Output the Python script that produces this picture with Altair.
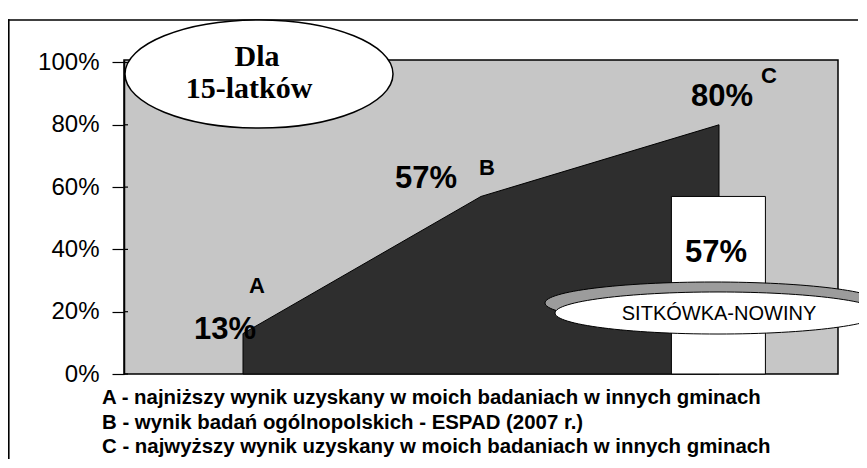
import altair as alt
import pandas as pd

# ---------------- data ----------------
categories = ["A", "B", "C"]
positions = [0.5, 1.5, 2.5]
values = [0.13, 0.57, 0.80]
local_name = "SITKÓWKA-NOWINY"
local_value = 0.57
local_pos = 2.5
y_ticks = [0, 0.2, 0.4, 0.6, 0.8, 1.0]
title_lines = ["Dla", "15-latków"]
legend_lines = [
    "A - najniższy wynik uzyskany w moich badaniach w innych gminach",
    "B - wynik badań ogólnopolskich - ESPAD (2007 r.)",
    "C - najwyższy wynik uzyskany w moich badaniach w innych gminach",
]

# ---------------- styling ----------------
W, H = 714, 314
PAD = {"left": 116, "top": 52, "right": 21, "bottom": 86}
SANS = "Liberation Sans"
SERIF = "Liberation Serif"
xscale = alt.Scale(domain=[0, 3], nice=False, zero=False)
yscale = alt.Scale(domain=[0, 1.008], nice=False, zero=True)


def ellipse_path(k):
    c = 0.5523
    return (f"M -1 0 C -1 {-c*k:.4f} {-c:.4f} {-k:.4f} 0 {-k:.4f} "
            f"C {c:.4f} {-k:.4f} 1 {-c*k:.4f} 1 0 "
            f"C 1 {c*k:.4f} {c:.4f} {k:.4f} 0 {k:.4f} "
            f"C {-c:.4f} {k:.4f} -1 {c*k:.4f} -1 0 Z")


df = pd.DataFrame({"cat": categories, "x": positions, "v": values})
df["label"] = [f"{round(v * 100)}%" for v in values]

X = alt.X("x:Q", scale=xscale, axis=None)
Y = alt.Y(
    "v:Q", scale=yscale,
    axis=alt.Axis(values=y_ticks, format=".0%", labelFont=SANS, labelFontSize=24,
                  labelColor="black", tickSize=12, tickColor="black", tickWidth=1.2,
                  domainColor="black", domainWidth=1.5, labelPadding=13,
                  grid=False, title=None),
)

area = alt.Chart(df).mark_area(color="#2e2e2e", stroke="black", strokeWidth=1).encode(
    x=X, y=Y
)

bar_df = pd.DataFrame({"x": [local_pos - 0.2], "x2": [local_pos + 0.195], "v": [local_value],
                       "label": [f"{round(local_value * 100)}%"], "xc": [local_pos]})
bar = alt.Chart(bar_df).mark_rect(fill="white", stroke="black", strokeWidth=1).encode(
    x=X, x2="x2:Q", y=Y, y2=alt.datum(0)
)
bar_label = alt.Chart(bar_df).mark_text(
    font=SANS, fontSize=31, fontWeight="bold", color="black", dx=-3, dy=57, baseline="middle"
).encode(x=alt.X("xc:Q", scale=xscale, axis=None), y=Y, text="label:N")

# value labels and letters near points A, B, C
val_offsets = [(-18, -4), (-55, -17), (3, -28)]
let_offsets = [(14, -48), (6, -28), (50, -49)]
label_layers = []
for i in range(3):
    sub = df.iloc[[i]]
    label_layers.append(
        alt.Chart(sub).mark_text(font=SANS, fontSize=31, fontWeight="bold", color="black",
                                 dx=val_offsets[i][0], dy=val_offsets[i][1], baseline="middle")
        .encode(x=X, y=Y, text="label:N")
    )
    label_layers.append(
        alt.Chart(sub).mark_text(font=SANS, fontSize=22, fontWeight="bold", color="black",
                                 dx=let_offsets[i][0], dy=let_offsets[i][1], baseline="middle")
        .encode(x=X, y=Y, text="cat:N")
    )

# inner halves of the y ticks
tick_df = pd.DataFrame({"v": y_ticks})
inner_ticks = alt.Chart(tick_df).mark_rule(color="black", strokeWidth=1.2).encode(
    y=Y, x=alt.value(0), x2=alt.value(4)
)

# "SITKÓWKA-NOWINY" 3D ellipse (pixel offsets relative to plot origin)
ell_df = pd.DataFrame({"x": [local_pos], "name": [local_name]})
ell_back = alt.Chart(ell_df).mark_point(
    shape=ellipse_path(0.125), size=336 ** 2, filled=True, fill="#9c9c9c",
    stroke="black", strokeWidth=1, opacity=1, xOffset=-6
).encode(x=alt.X("x:Q", scale=xscale, axis=None), y=alt.value(243))
ell_front = alt.Chart(ell_df).mark_point(
    shape=ellipse_path(0.129), size=326 ** 2, filled=True, fill="white",
    stroke="black", strokeWidth=1, opacity=1, xOffset=-1
).encode(x=alt.X("x:Q", scale=xscale, axis=None), y=alt.value(253))
ell_text = alt.Chart(ell_df).mark_text(
    font=SANS, fontSize=20, color="black", baseline="middle"
).encode(x=alt.X("x:Q", scale=xscale, axis=None), y=alt.value(254), text="name:N")

# "Dla 15-latków" ellipse
one = alt.Data(values=[{}])
title_ell = alt.Chart(one).mark_point(
    shape=ellipse_path(0.403), size=268 ** 2, filled=True, fill="white",
    stroke="black", strokeWidth=1.5, opacity=1
).encode(x=alt.value(135), y=alt.value(14))
title_t1 = alt.Chart(one).mark_text(
    font=SERIF, fontSize=30, fontWeight="bold", color="black", baseline="middle"
).encode(x=alt.value(133), y=alt.value(-3), text=alt.value(title_lines[0]))
title_t2 = alt.Chart(one).mark_text(
    font=SERIF, fontSize=30, fontWeight="bold", color="black", baseline="middle"
).encode(x=alt.value(125), y=alt.value(29), text=alt.value(title_lines[1]))

# outer frame: top and left edges as thin filled bars (no strokes)
frame_top = alt.Chart(one).mark_rect(fill="black", strokeWidth=0).encode(
    x=alt.value(-PAD["left"]), x2=alt.value(W + PAD["right"] - 1),
    y=alt.value(-40.8), y2=alt.value(-39.2)
)
frame_left = alt.Chart(one).mark_rect(fill="black", strokeWidth=0).encode(
    x=alt.value(-PAD["left"]), x2=alt.value(-PAD["left"] + 1.6),
    y=alt.value(-40.8), y2=alt.value(H + PAD["bottom"] - 1)
)

# legend lines under the chart
legend_layers = []
for i, line in enumerate(legend_lines):
    legend_layers.append(
        alt.Chart(one).mark_text(
            font=SANS, fontSize=20.4, fontWeight="bold", color="black",
            align="left", baseline="middle"
        ).encode(x=alt.value(-22), y=alt.value(338 + 24.5 * i), text=alt.value(line))
    )

chart = alt.layer(
    area, bar, ell_back, ell_front, ell_text, bar_label, inner_ticks,
    *label_layers, frame_top, frame_left, title_ell, title_t1, title_t2, *legend_layers
).properties(
    width=W, height=H,
    autosize=alt.AutoSizeParams(type="none"),
    padding=PAD,
).configure_view(
    fill="#c6c6c6", stroke="black", strokeWidth=1.5
)

chart.save("out.html", embed_options={"renderer": "svg", "actions": False})
